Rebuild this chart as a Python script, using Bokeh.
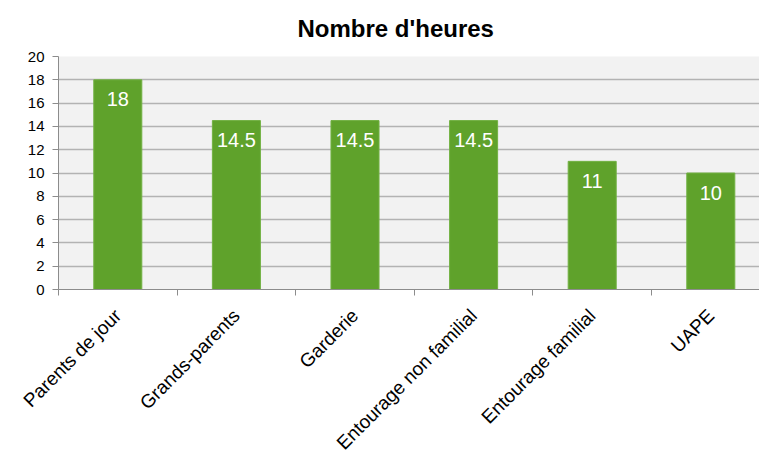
import math
from bokeh.plotting import figure
from bokeh.models import Range1d, FixedTicker, ColumnDataSource, Title
from bokeh.core.properties import value
from bokeh.embed import file_html
from bokeh.resources import INLINE

categories = ["Parents de jour", "Grands-parents", "Garderie",
              "Entourage non familial", "Entourage familial", "UAPE"]
heures = [18, 14.5, 14.5, 14.5, 11, 10]
labels = ["18", "14.5", "14.5", "14.5", "11", "10"]
y_ticks = [0, 2, 4, 6, 8, 10, 12, 14, 16, 18, 20]

FONT = "Liberation Sans"
W, H = 759, 464
LEFT, TOP, BOTTOM = 58, 56, 175
cat_px = 118.6
frame_w = W - LEFT
xs = [i + 0.5 for i in range(len(categories))]

src = ColumnDataSource(dict(x=xs, top=heures, lab=labels))

p = figure(width=W, height=H, output_backend="svg", toolbar_location=None,
           x_range=Range1d(0, frame_w / cat_px), y_range=Range1d(0, 20),
           min_border_left=LEFT, min_border_right=0, min_border_top=TOP,
           min_border_bottom=BOTTOM)
p.outline_line_color = None
p.background_fill_color = "#f2f2f2"
p.border_fill_color = "white"

p.title = Title(text="Nombre d'heures", align="left", offset=239,
                standoff=25, vertical_align="top",
                text_font=FONT, text_font_size="24px", text_font_style="bold",
                text_color="black")

p.vbar(x="x", top="top", width=0.405, source=src, fill_color="#5fa22b",
       line_color="#72b143", line_width=1)
p.text(x="x", y="top", text="lab", source=src, text_align="center",
       text_baseline="alphabetic", y_offset=19.5, text_color="white",
       text_font=value(FONT), text_font_size="20px")

# x axis: boundary ticks (minor), category names at centers (major, no tick mark)
xa = p.xaxis[0]
xa.ticker = FixedTicker(ticks=xs, minor_ticks=list(range(len(categories) + 1)))
xa.major_label_overrides = {x: c for x, c in zip(xs, categories)}
xa.major_label_orientation = math.pi / 4
xa.major_tick_line_color = None
xa.minor_tick_line_color = "#8c8c8c"
xa.minor_tick_out = 6
xa.minor_tick_in = 0
xa.axis_line_color = "#8c8c8c"
xa.major_label_text_font = FONT
xa.major_label_text_font_size = "19px"
xa.major_label_text_color = "black"
xa.major_label_standoff = 17

# y axis
ya = p.yaxis[0]
ya.ticker = FixedTicker(ticks=y_ticks)
ya.axis_line_color = "#8c8c8c"
ya.major_tick_line_color = "#8c8c8c"
ya.major_tick_out = 6
ya.major_tick_in = 0
ya.minor_tick_line_color = None
ya.major_label_text_font = FONT
ya.major_label_text_font_size = "15px"
ya.major_label_text_color = "black"
ya.major_label_standoff = 8

p.xgrid.grid_line_color = None
p.ygrid.ticker = FixedTicker(ticks=y_ticks)
p.ygrid.grid_line_color = "#b3b3b3"
p.ygrid.grid_line_width = 1.4

open("out.html", "w").write(file_html(p, INLINE))
